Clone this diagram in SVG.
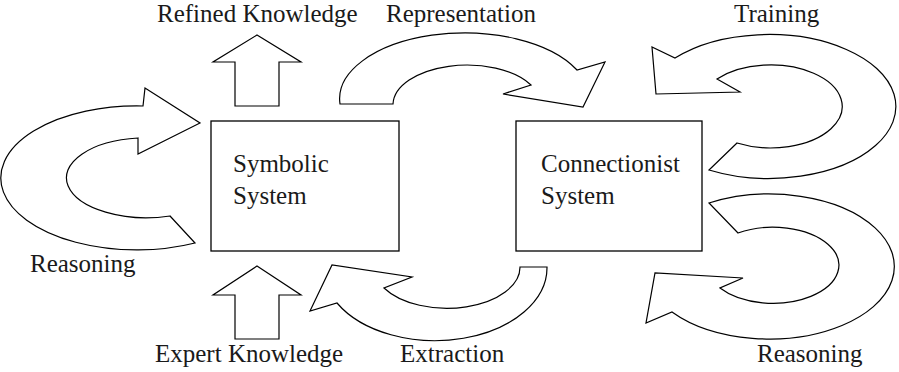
<svg xmlns="http://www.w3.org/2000/svg" width="899" height="372" viewBox="0 0 899 372">
<style>
.shape{fill:#fff;stroke:#000;stroke-width:1.2;stroke-linejoin:miter}
.box{fill:#fff;stroke:#000;stroke-width:1.3}
text{font-family:"Liberation Serif","DejaVu Serif",serif;font-size:25px;fill:#1a1a1a}
</style>
<rect width="899" height="372" fill="#fff"/>
<g id="symbolic">
<rect class="box" x="211" y="121" width="188" height="130"/>
<text x="233" y="172">Symbolic</text>
<text x="233" y="204">System</text>
</g>
<g id="connectionist">
<rect class="box" x="516" y="121" width="186" height="130"/>
<text x="541" y="172">Connectionist</text>
<text x="541" y="204">System</text>
</g>
<g id="connectors">
<g id="reasoning-left">
<path class="shape" d="M143,106 A136 72 0 1 0 195,243 L170,216 A80 40 0 1 1 138,138 L138,154 L200,123 L145,88 Z"/>
<text x="30" y="272">Reasoning</text>
</g>
<g id="refined">
<path class="shape" d="M257,35 L301,62 L279,62 L279,106 L235,106 L235,62 L213,62 Z"/>
<text x="157" y="22">Refined Knowledge</text>
</g>
<g id="expert">
<path class="shape" d="M257,266 L301,295 L279,295 L279,339 L235,339 L235,295 L213,295 Z"/>
<text x="155" y="362">Expert Knowledge</text>
</g>
<g id="representation">
<path class="shape" d="M340,104 A125 66 0 0 1 577,70 L605,62 L583,107 L503,94 L531,85 A74 40 0 0 0 393,104 Z"/>
<text x="386" y="22">Representation</text>
</g>
<g id="extraction">
<path class="shape" d="M547,267 A112 73 0 0 1 337,303 L310,311 L332,265 L412,277 L384,288 A73 41 0 0 0 520,267 Z"/>
<text x="400" y="362">Extraction</text>
</g>
<g id="training">
<path class="shape" d="M675,58 A127 72 0 1 1 709,170 L737,143 A71.5 41.5 0 1 0 717,79 L740,92 L656,94 L652,47 Z"/>
<text x="734" y="22">Training</text>
</g>
<g id="reasoning-right">
<path class="shape" d="M709,203 A125 72.5 0 1 1 672,312 L646,323 L655,273 L743,278 L720,288 A66 38 0 1 0 738,233 Z"/>
<text x="757" y="362">Reasoning</text>
</g>
</g>
</svg>
